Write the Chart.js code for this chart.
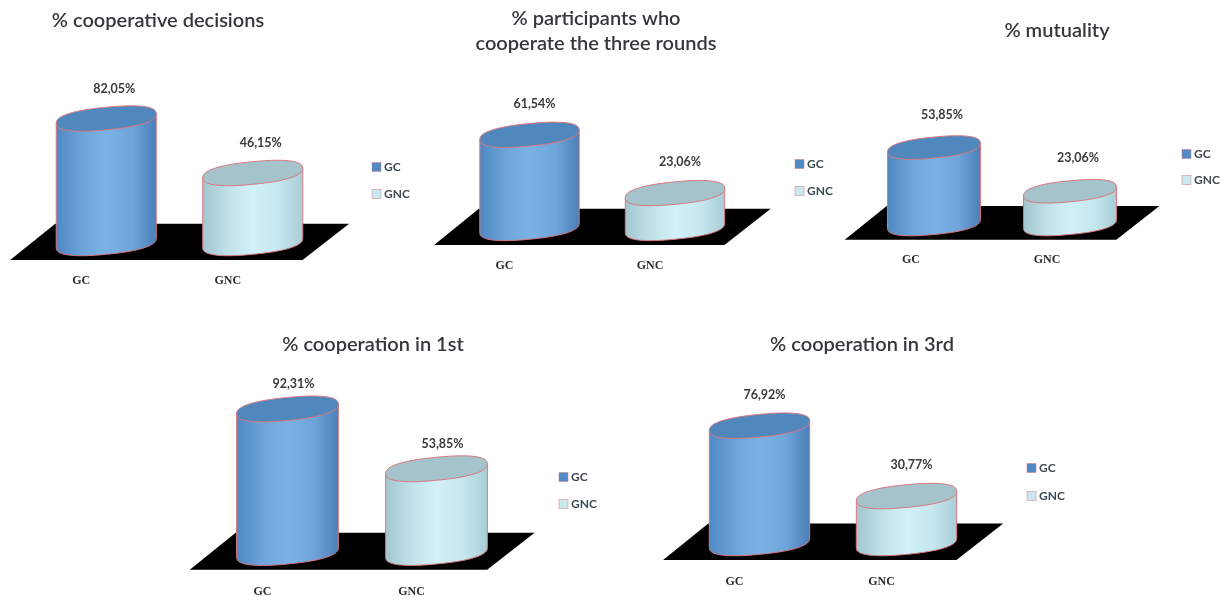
<!DOCTYPE html>
<html>
<head>
<meta charset="utf-8">
<title>Cooperation by group</title>
<script src="https://cdn.jsdelivr.net/npm/chart.js@4"></script>
<style>
    html, body { margin: 0; padding: 0; background: #ffffff; }
    #page { position: relative; width: 1225px; height: 600px; overflow: hidden; }
    canvas { position: absolute; display: block; }
</style>
</head>
<body>
<div id="page"></div>
<script>
const categories = ['GC', 'GNC'];

const decisionValues = [82.05, 46.15];
const threeRoundValues = [61.54, 23.06];
const mutualityValues = [53.85, 23.06];
const firstRoundValues = [92.31, 53.85];
const thirdRoundValues = [76.92, 30.77];

const decisionTitle = ['% cooperative decisions'];
const threeRoundTitle = ['% participants who', 'cooperate the three rounds'];
const mutualityTitle = ['% mutuality'];
const firstRoundTitle = ['% cooperation in 1st'];
const thirdRoundTitle = ['% cooperation in 3rd'];

// page layout of each small chart, all in page pixels
// box: canvas rect, plot: left/right/base of the plot and px per percent
const panels = [
    {
        title: decisionTitle, values: decisionValues,
        box: [0, 0, 420, 300], plot: [33, 326, 243, 1.517],
        titleAt: [158, 20.5], labelGap: 30, labelShift: 8, tickGap: 31, tickShift: -25,
        legendAt: [372, 167, 27]
    },
    {
        title: threeRoundTitle, values: threeRoundValues,
        box: [420, 0, 420, 300], plot: [456.75, 747.75, 228, 1.515],
        titleAt: [596, 18.5], labelGap: 31, labelShift: 5, tickGap: 31, tickShift: -25,
        legendAt: [795, 164, 27]
    },
    {
        title: mutualityTitle, values: mutualityValues,
        box: [840, 0, 385, 300], plot: [866, 1138, 224, 1.42],
        titleAt: [1057, 30.5], labelGap: 33, labelShift: 8, tickGap: 29, tickShift: -23,
        legendAt: [1182, 154, 26]
    },
    {
        title: firstRoundTitle, values: firstRoundValues,
        box: [170, 320, 450, 280], plot: [213, 511, 552.5, 1.555],
        titleAt: [373, 344.5], labelGap: 25, labelShift: 6, tickGap: 32, tickShift: -25,
        legendAt: [559, 477, 27]
    },
    {
        title: thirdRoundTitle, values: thirdRoundValues,
        box: [640, 320, 450, 280], plot: [686, 980, 543, 1.525],
        titleAt: [862, 344.5], labelGap: 31, labelShift: 5, tickGap: 32, tickShift: -25,
        legendAt: [1027, 468, 28]
    }
];

const legendColors = ['#4f8ac6', '#c9e9f1'];
const sideOffsets = [0, 0.28, 0.5, 0.76, 1];
const sideStops = [
    ['#5088c3', '#6fa6da', '#7bb2e4', '#6fa5da', '#4a7fb8'],
    ['#a2c6cf', '#c3e3eb', '#d1f0f8', '#c6e7ef', '#a8cdd6']
];
const capColors = ['#5087bd', '#a5c3cb'];
const edgeColor = '#d97880';
const capSlope = -0.095;
const capRound = 2.4;
const axisHeight = 50;

function percentText(value) {
    return value.toFixed(2).replace('.', ',') + '%';
}

// traces a skewed, slightly squared ellipse between two angles
function traceCap(ctx, cx, cy, half, ry, from, to) {
    const steps = 60;
    for (let s = 0; s <= steps; s++) {
        const t = from + (to - from) * s / steps;
        const c = Math.cos(t), n = Math.sin(t);
        const x = half * Math.sign(c) * Math.pow(Math.abs(c), 2 / capRound);
        const y = ry * Math.sign(n) * Math.pow(Math.abs(n), 2 / capRound);
        ctx.lineTo(cx + x, cy + y + capSlope * x);
    }
}

// floor and cylinders are drawn from the bar elements, so they follow the scales
const cylinderPlugin = {
    id: 'cylinders',
    beforeDatasetsDraw(chart) {
        const { ctx, chartArea: a, scales } = chart;
        const w = a.right - a.left;
        const base = scales.y.getPixelForValue(0);
        ctx.save();
        ctx.fillStyle = '#000000';
        ctx.beginPath();
        ctx.moveTo(a.left - 0.078 * w, base + 0.058 * w);
        ctx.lineTo(a.right - 0.08 * w, base + 0.058 * w);
        ctx.lineTo(a.right + 0.079 * w, base - 0.066 * w);
        ctx.lineTo(a.left + 0.076 * w, base - 0.066 * w);
        ctx.closePath();
        ctx.fill();
        ctx.restore();
    },
    beforeDatasetDraw() {
        return false;
    },
    afterDatasetsDraw(chart, args, opts) {
        const { ctx } = chart;
        chart.getDatasetMeta(0).data.forEach((bar, i) => {
            const half = bar.width / 2;
            const ry = bar.width * 0.113;
            const left = bar.x - half;
            const right = bar.x + half;
            const rise = capSlope * half;

            const side = ctx.createLinearGradient(left, 0, right, 0);
            sideStops[i].forEach((c, k) => side.addColorStop(sideOffsets[k], c));

            ctx.save();
            ctx.strokeStyle = edgeColor;
            ctx.lineWidth = 1;

            ctx.beginPath();
            ctx.moveTo(left, bar.y - rise);
            traceCap(ctx, bar.x, bar.base, half, ry, Math.PI, 0);
            ctx.lineTo(right, bar.y + rise);
            ctx.closePath();
            ctx.fillStyle = side;
            ctx.fill();
            ctx.stroke();

            ctx.beginPath();
            traceCap(ctx, bar.x, bar.y, half, ry, 0, Math.PI * 2);
            ctx.closePath();
            ctx.fillStyle = capColors[i];
            ctx.fill();
            ctx.stroke();

            // value above the cap
            ctx.fillStyle = '#3a3a3a';
            ctx.font = 'bold 12.5px Lato';
            ctx.textAlign = 'center';
            ctx.textBaseline = 'middle';
            ctx.fillText(percentText(chart.data.datasets[0].data[i]), bar.x + opts.labelShift, bar.y - opts.labelGap);
            ctx.restore();
        });
    },
    afterDraw(chart, args, opts) {
        const { ctx } = chart;
        ctx.save();

        // title, one text per line
        ctx.fillStyle = '#33383b';
        ctx.font = '600 20px Lato';
        ctx.textAlign = 'center';
        ctx.textBaseline = 'middle';
        opts.title.forEach((line, i) => {
            ctx.fillText(line, opts.titleX, opts.titleY + i * 25);
        });

        // legend squares and names
        ctx.font = 'bold 12px Lato';
        ctx.textAlign = 'left';
        categories.forEach((name, i) => {
            const y = opts.legendY + i * opts.legendStep;
            ctx.fillStyle = legendColors[i];
            ctx.strokeStyle = 'rgba(217, 120, 128, 0.7)';
            ctx.lineWidth = 0.7;
            ctx.fillRect(opts.legendX, y - 4.5, 9, 9);
            ctx.strokeRect(opts.legendX, y - 4.5, 9, 9);
            ctx.fillStyle = '#3f494e';
            ctx.fillText(name, opts.legendX + 12, y);
        });
        ctx.restore();
    }
};

const page = document.getElementById('page');

panels.forEach(panel => {
    const [boxLeft, boxTop, boxWidth, boxHeight] = panel.box;
    const [plotLeft, plotRight, plotBase, perPercent] = panel.plot;
    const plotTop = plotBase - 100 * perPercent;

    const canvas = document.createElement('canvas');
    canvas.width = boxWidth;
    canvas.height = boxHeight;
    canvas.style.left = boxLeft + 'px';
    canvas.style.top = boxTop + 'px';
    page.appendChild(canvas);

    new Chart(canvas.getContext('2d'), {
        type: 'bar',
        data: {
            labels: categories,
            datasets: [{
                data: panel.values,
                backgroundColor: legendColors,
                barPercentage: 0.683,
                categoryPercentage: 1
            }]
        },
        options: {
            responsive: false,
            animation: false,
            devicePixelRatio: 1,
            layout: {
                padding: {
                    left: plotLeft - boxLeft,
                    right: boxLeft + boxWidth - plotRight,
                    top: plotTop - boxTop,
                    bottom: boxTop + boxHeight - plotBase - axisHeight
                }
            },
            scales: {
                x: {
                    afterFit(scale) { scale.height = axisHeight; },
                    grid: { display: false, drawTicks: false },
                    border: { display: false },
                    ticks: {
                        padding: panel.tickGap,
                        labelOffset: panel.tickShift,
                        maxRotation: 0,
                        color: '#2e2e2e',
                        font: { family: 'Liberation Serif', weight: 'bold', size: 12 }
                    }
                },
                y: { display: false, min: 0, max: 100 }
            },
            plugins: {
                legend: { display: false },
                tooltip: { enabled: false },
                cylinders: {
                    title: panel.title,
                    titleX: panel.titleAt[0] - boxLeft,
                    titleY: panel.titleAt[1] - boxTop,
                    labelGap: panel.labelGap,
                    labelShift: panel.labelShift,
                    legendX: panel.legendAt[0] - boxLeft,
                    legendY: panel.legendAt[1] - boxTop,
                    legendStep: panel.legendAt[2]
                }
            }
        },
        plugins: [cylinderPlugin]
    });
});
</script>
</body>
</html>
